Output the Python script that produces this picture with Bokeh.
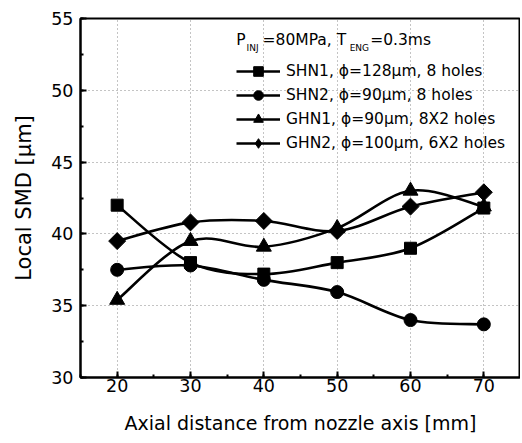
import numpy as np
from bokeh.plotting import figure
from bokeh.models import (SingleIntervalTicker, Legend, LegendItem, Label)
from bokeh.embed import file_html
from bokeh.resources import INLINE

x_mm = [20, 30, 40, 50, 60, 70]
shn1 = [42.0, 38.0, 37.2, 38.0, 39.0, 41.8]
shn2 = [37.5, 37.8, 36.8, 35.95, 34.0, 33.7]
ghn1 = [35.4, 39.5, 39.1, 40.4, 43.0, 41.9]
ghn2 = [39.5, 40.8, 40.9, 40.2, 41.9, 42.9]

labels = ["SHN1, \u03d5=128\u03bcm, 8 holes",
          "SHN2, \u03d5=90\u03bcm, 8 holes",
          "GHN1, \u03d5=90\u03bcm, 8X2 holes",
          "GHN2, \u03d5=100\u03bcm, 6X2 holes"]
markers = ["square", "circle", "triangle", "square"]
angles = [0, 0, 0, np.pi / 4]
sizes = [12, 13, 15, 12]

FONT = "DejaVu Sans"

p = figure(width=520, height=440, x_range=(15, 75), y_range=(30, 55),
           output_backend="svg", toolbar_location=None,
           min_border_left=80, min_border_right=0, min_border_top=18,
           min_border_bottom=63)
p.background_fill_color = "white"
p.outline_line_color = "black"
p.outline_line_width = 2

p.xaxis.ticker = SingleIntervalTicker(interval=10, num_minor_ticks=2)
p.yaxis.ticker = SingleIntervalTicker(interval=5, num_minor_ticks=2)
for ax in (p.xaxis, p.yaxis):
    ax.axis_line_width = 2
    ax.axis_line_color = "black"
    ax.major_tick_in = 6
    ax.major_tick_out = 0
    ax.minor_tick_in = 3
    ax.minor_tick_out = 0
    ax.major_tick_line_width = 2
    ax.minor_tick_line_width = 2
    ax.major_label_text_font = FONT
    ax.major_label_text_font_size = "17.5px"
    ax.major_label_text_color = "black"
    ax.axis_label_text_font = FONT
    ax.axis_label_text_font_style = "normal"
    ax.axis_label_text_color = "black"
p.xaxis.axis_label = "Axial distance from nozzle axis [mm]"
p.yaxis.axis_label = "Local SMD [\u03bcm]"
p.xaxis.axis_label_text_font_size = "19px"
p.yaxis.axis_label_text_font_size = "21px"
p.xaxis.major_label_standoff = 1
p.yaxis.major_label_standoff = 7
p.xaxis.axis_label_standoff = 17
p.yaxis.axis_label_standoff = 12

p.grid.grid_line_color = "#888888"
p.grid.grid_line_dash = "1 3"
p.grid.grid_line_width = 1


def catmull(xs, ys):
    xs = np.asarray(xs, float)
    ys = np.asarray(ys, float)
    n = len(xs)
    X = np.concatenate([[xs[0]], xs, [xs[-1]]])
    Y = np.concatenate([[ys[0]], ys, [ys[-1]]])
    out = dict(x0=[], y0=[], x1=[], y1=[], cx0=[], cy0=[], cx1=[], cy1=[])
    for i in range(n - 1):
        j = i + 1
        out["x0"].append(X[j]); out["y0"].append(Y[j])
        out["x1"].append(X[j + 1]); out["y1"].append(Y[j + 1])
        out["cx0"].append(X[j] + (X[j + 1] - X[j - 1]) / 6)
        out["cy0"].append(Y[j] + (Y[j + 1] - Y[j - 1]) / 6)
        out["cx1"].append(X[j + 1] - (X[j + 2] - X[j]) / 6)
        out["cy1"].append(Y[j + 1] - (Y[j + 2] - Y[j]) / 6)
    return out


items = []
for ys, lab, mk, ang, sz in zip([shn1, shn2, ghn1, ghn2], labels, markers, angles, sizes):
    b = catmull(x_mm, ys)
    r1 = p.bezier(x0=b["x0"], y0=b["y0"], x1=b["x1"], y1=b["y1"],
                  cx0=b["cx0"], cy0=b["cy0"], cx1=b["cx1"], cy1=b["cy1"],
                  line_color="black", line_width=2.6)
    if ang:
        # diamond drawn underneath (hidden by the rotated square) used for the legend key
        rl = p.scatter(x_mm, ys, marker="diamond", size=15,
                       fill_color="black", line_color="black")
    r2 = p.scatter(x_mm, ys, marker=mk, size=sz, angle=ang,
                   fill_color="black", line_color="black")
    items.append(LegendItem(label=lab, renderers=[r1, rl if ang else r2]))

legend = Legend(items=items, location=(156, 222), padding=0, spacing=0,
                glyph_width=44, glyph_height=24, label_height=24,
                label_standoff=6, label_text_font=FONT,
                label_text_font_size="15.5px", label_text_color="black",
                border_line_color=None, background_fill_alpha=0,
                margin=0)
p.add_layout(legend, "center")

# header: P_INJ=80MPa, T_ENG=0.3ms
hy = 53.49
sy = 52.95
pieces = [("P", 36.24, hy, "15.5px"), ("INJ", 37.65, sy, "9px"),
          ("=80MPa, T", 39.83, hy, "15.5px"), ("ENG", 51.7, sy, "9px"),
          ("=0.3ms", 54.5, hy, "15.5px")]
for t, xx, yy, fs in pieces:
    p.add_layout(Label(x=xx, y=yy, text=t, text_font=FONT, text_font_size=fs,
                       text_baseline="middle", text_align="left",
                       text_color="black"))

open("out.html", "w").write(file_html(p, INLINE))
